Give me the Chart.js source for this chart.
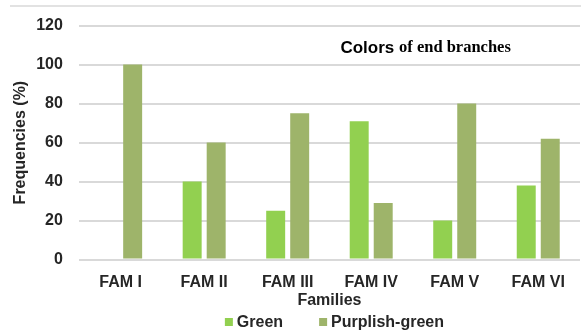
<!DOCTYPE html>
<html>
<head>
<meta charset="utf-8">
<script src="https://cdn.jsdelivr.net/npm/chart.js@4.4.1/dist/chart.umd.min.js"></script>
<style>
  html, body { margin: 0; padding: 0; background: #fff; }
  #wrap { width: 581px; height: 334px; position: relative; }
</style>
</head>
<body>
<div id="wrap"><canvas id="famChart"></canvas></div>
<script>
(function () {
  "use strict";

  // categories and series (frequencies, %)
  const families = ["FAM I", "FAM II", "FAM III", "FAM IV", "FAM V", "FAM VI"];
  const greenVals = [0, 40, 25, 71, 20, 38];
  const purplishVals = [100, 60, 75, 29, 80, 62];
  const yTicks = [0, 20, 40, 60, 80, 100, 120];

  const GREEN = "#92D050", OLIVE = "#9EB46A", GRID = "#d9d9d9", INK = "#262626";
  const SANS = "'Liberation Sans', Arial, sans-serif";
  const SERIF = "'Liberation Serif', 'Times New Roman', serif";
  const BOLD16 = { family: SANS, size: 16, weight: "bold" };

  // chart heading: first word in sans, rest in serif, sits between the top gridlines
  const headingPlugin = {
    id: "heading",
    afterDraw(chart) {
      const { ctx, chartArea: a } = chart;
      const y = chart.scales.y;
      const yy = (y.getPixelForValue(120) + y.getPixelForValue(100)) / 2 + 3;
      ctx.save();
      ctx.fillStyle = "#000";
      ctx.textBaseline = "middle";
      ctx.font = "bold 17px " + SANS;
      const w1 = ctx.measureText("Colors ").width;
      ctx.font = "bold 16.5px " + SERIF;
      const w2 = ctx.measureText("of end branches").width;
      const x0 = a.left + (a.right - a.left) * 0.692 - (w1 + w2) / 2;
      ctx.font = "bold 17px " + SANS;
      ctx.fillText("Colors ", x0, yy);
      ctx.font = "bold 16.5px " + SERIF;
      ctx.fillText("of end branches", x0 + w1, yy);
      // outer frame top edge
      ctx.strokeStyle = "#e2e2e2";
      ctx.lineWidth = 2;
      ctx.beginPath();
      ctx.moveTo(10, 6);
      ctx.lineTo(chart.width, 6);
      ctx.stroke();
      ctx.restore();
    }
  };

  // compact legend under the axis title: small square, tight gap, wide spacing between items
  const legendPlugin = {
    id: "squareLegend",
    afterDraw(chart) {
      const { ctx, chartArea: a } = chart;
      const sets = chart.data.datasets;
      const box = 8, gapText = 4, gapItem = 36, yy = chart.height - 12;
      ctx.save();
      ctx.font = "bold 16px " + SANS;
      ctx.textBaseline = "middle";
      const widths = sets.map(d => box + gapText + ctx.measureText(d.label).width);
      const total = widths.reduce((s, w) => s + w, 0) + gapItem * (sets.length - 1);
      let x = (a.left + a.right) / 2 + 5 - total / 2;
      sets.forEach((d, i) => {
        ctx.fillStyle = d.backgroundColor;
        ctx.fillRect(x, yy - box / 2, box, box);
        ctx.fillStyle = INK;
        ctx.fillText(d.label, x + box + gapText, yy + 1);
        x += widths[i] + gapItem;
      });
      ctx.restore();
    }
  };

  new Chart(document.getElementById("famChart"), {
    type: "bar",
    data: {
      labels: families,
      datasets: [
        { label: "Green", data: greenVals, backgroundColor: GREEN },
        { label: "Purplish-green", data: purplishVals, backgroundColor: OLIVE }
      ]
    },
    options: {
      responsive: true, maintainAspectRatio: false, animation: false,
      categoryPercentage: 0.575, barPercentage: 0.79,
      layout: { padding: { left: 11, right: 1, top: 25, bottom: 21 } },
      plugins: { legend: { display: false }, tooltip: { enabled: false } },
      scales: {
        x: {
          grid: { display: false, drawTicks: false }, border: { display: false },
          ticks: { color: INK, padding: 13, font: BOLD16 },
          title: { display: true, text: "Families", color: INK, padding: { top: -14, bottom: 3 }, font: BOLD16 }
        },
        y: {
          min: 0, max: 120,
          afterBuildTicks: s => { s.ticks = yTicks.map(v => ({ value: v })); },
          grid: { color: GRID, lineWidth: 2, drawTicks: false }, border: { display: false },
          ticks: { color: INK, padding: 16, font: BOLD16 },
          title: { display: true, text: "Frequencies (%)", color: INK, padding: { top: 0, bottom: -10 }, font: BOLD16 }
        }
      }
    },
    plugins: [headingPlugin, legendPlugin]
  });
})();
</script>
</body>
</html>
